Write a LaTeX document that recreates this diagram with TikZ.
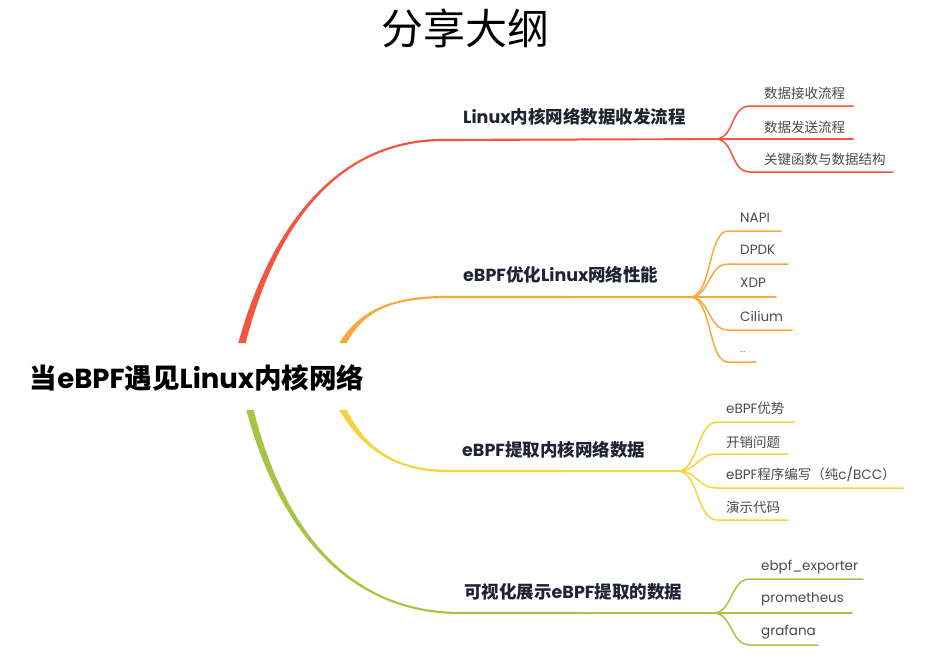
\documentclass[tikz,border=0pt]{standalone}
\usepackage{fontspec}
\setmainfont{Noto Sans CJK SC}
\newfontfamily\lat{Poppins}
\usetikzlibrary{calc}
\definecolor{cred}{HTML}{F2553D}
\definecolor{corange}{HTML}{F9A83A}
\definecolor{cyellow}{HTML}{F8D33C}
\definecolor{cgreen}{HTML}{A8C445}
\definecolor{labelc}{HTML}{1E2433}
\definecolor{subc}{HTML}{4A4A4A}
\newcommand\taperbranch[7]{%
  \fill[#1] ($(#2)+(-3.7,0)$) .. controls ($(#3)+(-2.7,0)$) and ($(#4)+(0,{-1.2*#7})$) .. ($(#5)+(0,{-1.1*#7})$)
    -- ($(#6)+(0,{-0.9*#7})$) -- ($(#6)+(0,{0.9*#7})$) -- ($(#5)+(0,{1.1*#7})$)
    .. controls ($(#4)+(0,{1.2*#7})$) and ($(#3)+(2.7,0)$) .. ($(#2)+(3.7,0)$) -- cycle;}
\begin{document}
\begin{tikzpicture}[x=1pt,y=-1pt,
  title/.style={inner sep=0, font=\fontsize{42}{46}\selectfont, text=black},
  roottxt/.style={inner sep=0, font=\fontsize{27.5}{30}\selectfont\bfseries, text=black},
  lbl/.style={anchor=west, inner sep=0, font=\fontsize{17.5}{20}\selectfont\bfseries, text=labelc},
  subtxt/.style={anchor=west, inner sep=0, font=\fontsize{13.5}{16}\selectfont, text=subc},
  subline/.style={line width=1.5pt, line cap=round},
]
\useasboundingbox (0,0) rectangle (937,669);

% title and root
\node[title] (title) at (465,28) {分享大纲};
\node[roottxt] (root) at (197,378) {当{\lat eBPF}遇见{\lat Linux}内核网络};

% main branch coordinates
\coordinate (R0) at (242,343); \coordinate (R1) at (440,140); \coordinate (RB) at (715,139);
\coordinate (O0) at (343,343); \coordinate (O1) at (448,297); \coordinate (OB) at (690,297);
\coordinate (Y0) at (343,410); \coordinate (Y1) at (448,471); \coordinate (YB) at (678,471);
\coordinate (G0) at (250,410); \coordinate (G1) at (460,613); \coordinate (GB) at (713,613);

\taperbranch{cred}{R0}{268,245}{325,142}{R1}{RB}{1}
\taperbranch{corange}{O0}{362,310}{392,297}{O1}{OB}{1}
\taperbranch{cyellow}{Y0}{362,445}{392,471}{Y1}{YB}{-1}
\taperbranch{cgreen}{G0}{285,545}{360,613}{G1}{GB}{-1}

% branch labels
\node[lbl] (L1) at (463,117) {{\lat Linux}内核网络数据收发流程};
\node[lbl] (L2) at (463,275) {{\lat eBPF}优化{\lat Linux}网络性能};
\node[lbl] (L3) at (462,450) {{\lat eBPF}提取内核网络数据};
\node[lbl] (L4) at (464,592) {可视化展示{\lat eBPF}提取的数据};

% red sub-branches
\coordinate (rs1) at (750,106); \coordinate (re1) at (853,106);
\coordinate (re2) at (853,139);
\coordinate (rs3) at (750,172); \coordinate (re3) at (893,172);
\draw[subline,cred] (RB) .. controls +(20,0) and +(-20,0) .. (rs1) -- (re1);
\draw[subline,cred] (RB) -- (re2);
\draw[subline,cred] (RB) .. controls +(20,0) and +(-20,0) .. (rs3) -- (re3);
\node[subtxt] (r1) at (764,93) {数据接收流程};
\node[subtxt] (r2) at (764,127) {数据发送流程};
\node[subtxt] (r3) at (764,159) {关键函数与数据结构};

% orange sub-branches
\coordinate (os1) at (728,231); \coordinate (oe1) at (781,231);
\coordinate (os2) at (728,264); \coordinate (oe2) at (788,264);
\coordinate (oe3) at (776,297);
\coordinate (os4) at (728,330); \coordinate (oe4) at (792,330);
\coordinate (os5) at (728,362); \coordinate (oe5) at (756,362);
\draw[subline,corange] (OB) .. controls +(22,0) and +(-20,0) .. (os1) -- (oe1);
\draw[subline,corange] (OB) .. controls +(20,0) and +(-20,0) .. (os2) -- (oe2);
\draw[subline,corange] (OB) -- (oe3);
\draw[subline,corange] (OB) .. controls +(20,0) and +(-20,0) .. (os4) -- (oe4);
\draw[subline,corange] (OB) .. controls +(22,0) and +(-20,0) .. (os5) -- (oe5);
\node[subtxt] (o1) at (740,218) {\lat NAPI};
\node[subtxt] (o2) at (740,250) {\lat DPDK};
\node[subtxt] (o3) at (740,283) {\lat XDP};
\node[subtxt] (o4) at (740,316) {\lat Cilium};
\node[subtxt,font=\fontsize{8}{9}\selectfont] (o5) at (740,352) {\lat ...};

% yellow sub-branches
\coordinate (ys1) at (717,422); \coordinate (ye1) at (795,422);
\coordinate (ys2) at (717,454); \coordinate (ye2) at (788,454);
\coordinate (ys3) at (717,488); \coordinate (ye3) at (903,488);
\coordinate (ys4) at (717,520); \coordinate (ye4) at (788,520);
\draw[subline,cyellow] (YB) .. controls +(20,0) and +(-20,0) .. (ys1) -- (ye1);
\draw[subline,cyellow] (YB) .. controls +(20,0) and +(-20,0) .. (ys2) -- (ye2);
\draw[subline,cyellow] (YB) .. controls +(20,0) and +(-20,0) .. (ys3) -- (ye3);
\draw[subline,cyellow] (YB) .. controls +(20,0) and +(-20,0) .. (ys4) -- (ye4);
\node[subtxt] (y1) at (726,408) {{\lat eBPF}优势};
\node[subtxt] (y2) at (726,442) {开销问题};
\node[subtxt] (y3) at (726,474) {{\lat eBPF}程序编写（纯{\lat c/BCC}）};
\node[subtxt] (y4) at (726,507) {演示代码};

% green sub-branches
\coordinate (gs1) at (750,579); \coordinate (ge1) at (863,579);
\coordinate (ge2) at (852,613);
\coordinate (gs3) at (750,645); \coordinate (ge3) at (818,645);
\draw[subline,cgreen] (GB) .. controls +(20,0) and +(-20,0) .. (gs1) -- (ge1);
\draw[subline,cgreen] (GB) -- (ge2);
\draw[subline,cgreen] (GB) .. controls +(20,0) and +(-20,0) .. (gs3) -- (ge3);
\node[subtxt] (g1) at (761,567) {\lat ebpf\_exporter};
\node[subtxt] (g2) at (761,599) {\lat prometheus};
\node[subtxt] (g3) at (761,632) {\lat grafana};
\end{tikzpicture}
\end{document}
